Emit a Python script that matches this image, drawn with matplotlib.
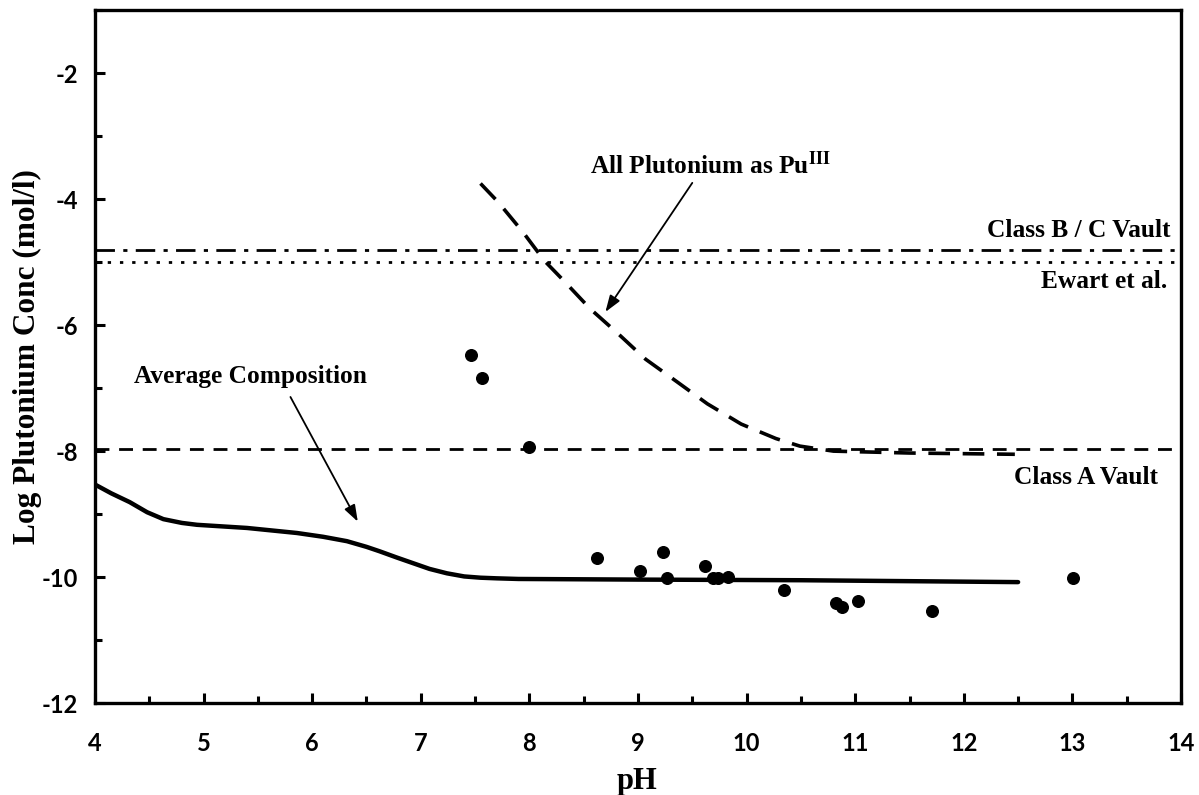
import matplotlib.pyplot as plt
from matplotlib.ticker import MultipleLocator

plt.rcParams["axes.unicode_minus"] = False
plt.rcParams["mathtext.fontset"] = "stix"
plt.rcParams["font.family"] = ["Lato", "DejaVu Sans"]
plt.rcParams["font.weight"] = "bold"

# measured points
ph_pts = [7.46, 7.56, 8.0, 8.62, 9.02, 9.23, 9.27, 9.62, 9.69, 9.74, 9.83,
          10.34, 10.82, 10.88, 11.03, 11.71, 13.01]
logc_pts = [-6.47, -6.84, -7.94, -9.69, -9.91, -9.60, -10.01, -9.83, -10.01, -10.01, -10.0,
            -10.20, -10.41, -10.48, -10.38, -10.54, -10.01]

# average composition curve
avg_ph = [4.0, 4.15, 4.32, 4.48, 4.63, 4.8, 4.94, 5.40, 5.86, 6.10, 6.32, 6.50, 6.62, 6.78,
          6.93, 7.08, 7.24, 7.40, 7.55, 7.7, 7.9, 9.0, 10.5, 12.5]
avg_c = [-8.53, -8.67, -8.81, -8.97, -9.08, -9.14, -9.17, -9.22, -9.30, -9.36, -9.43,
         -9.52, -9.59, -9.69, -9.78, -9.87, -9.94, -9.99, -10.01, -10.02, -10.03, -10.04,
         -10.05, -10.08]

# all plutonium as Pu(III)
pu3_ph = [7.55, 7.71, 7.94, 8.14, 8.32, 8.56, 8.82, 9.07, 9.36, 9.64, 9.95, 10.27, 10.49,
          10.8, 11.5, 12.47]
pu3_c = [-3.75, -4.04, -4.52, -4.98, -5.30, -5.74, -6.14, -6.54, -6.90, -7.25, -7.57,
         -7.80, -7.92, -8.0, -8.03, -8.05]

class_bc = -4.8
ewart = -5.0
class_a = -7.97

serif = ["Liberation Serif", "DejaVu Serif"]

fig = plt.figure(figsize=(11.99, 7.95), dpi=100)
ax = fig.add_axes([0.0792, 0.1157, 0.9058, 0.8713])

ax.axhline(class_bc, color="black", lw=2.0, dashes=(7, 3, 1.5, 3))
ax.axhline(ewart, color="black", lw=2.0, dashes=(1.2, 3.2))
ax.axhline(class_a, color="black", lw=2.0, dashes=(5, 3.5))

ax.plot(avg_ph, avg_c, color="black", lw=3.2, solid_capstyle="round")
ax.plot(pu3_ph, pu3_c, color="black", lw=2.6, dashes=(6, 3.5))
ax.scatter(ph_pts, logc_pts, s=70, color="black", zorder=3)

arrow = dict(arrowstyle="-|>,head_length=1.0,head_width=0.35",
             color="black", lw=1.3, shrinkA=0, shrinkB=0)
ax.annotate("", xy=(6.42, -9.12), xytext=(5.80, -7.14), arrowprops=arrow)
ax.annotate("", xy=(8.70, -5.79), xytext=(9.50, -3.74), arrowprops=arrow)

lab_kw = dict(fontsize=18.3, fontweight="bold", family=serif, va="center")
ax.text(5.43, -6.82, "Average Composition", ha="center", **lab_kw)
ax.text(9.67, -3.46, "All Plutonium as Pu$^{\\mathbf{III}}$", ha="center", **lab_kw)
ax.text(13.9, -4.5, "Class B / C Vault", ha="right", **lab_kw)
ax.text(13.87, -5.31, "Ewart et al.", ha="right", **lab_kw)
ax.text(13.79, -8.42, "Class A Vault", ha="right", **lab_kw)

ax.set_xlim(4, 14)
ax.set_ylim(-12, -1)
ax.xaxis.set_major_locator(MultipleLocator(1))
ax.xaxis.set_minor_locator(MultipleLocator(0.5))
ax.yaxis.set_major_locator(MultipleLocator(2))
ax.yaxis.set_minor_locator(MultipleLocator(1))
ax.set_yticks([-12, -10, -8, -6, -4, -2])
ax.tick_params(which="both", direction="in", top=False, right=False, width=2.2)
ax.tick_params(which="major", length=7, labelsize=17)
ax.tick_params(which="minor", length=5)
ax.tick_params(axis="x", pad=21)
ax.tick_params(axis="y", pad=12)
for sp in ax.spines.values():
    sp.set_linewidth(2.4)

ax.set_xlabel("pH", fontsize=22, fontweight="bold", family=serif, va="center")
ax.xaxis.set_label_coords(0.499, -0.114)
ax.set_ylabel("Log Plutonium Conc (mol/l)", fontsize=22.5, fontweight="bold",
              family=serif, va="center")
ax.yaxis.set_label_coords(-0.062, 0.5)

fig.savefig("out.png", dpi=100)
